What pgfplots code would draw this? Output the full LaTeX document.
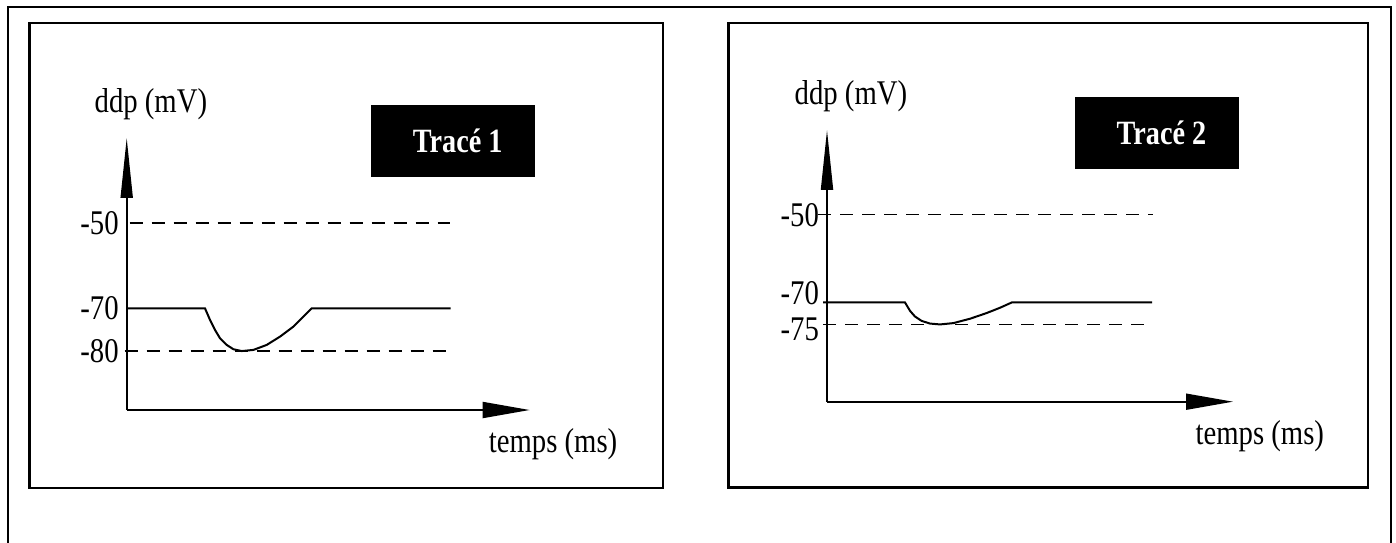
\documentclass[border=0pt]{standalone}
\usepackage{fontspec}
\setmainfont{Liberation Serif}[FakeStretch=0.83]
\usepackage{pgfplots}
\pgfplotsset{compat=1.18}
\usetikzlibrary{arrows.meta}

% common look of the two panels
\pgfplotsset{
  panel/.style={
    anchor=south west,
    axis lines=left,
    enlargelimits=false,
    clip=false,
    xmin=0,
    xtick=\empty,
    major tick length=0pt,
    axis line style={line width=0.9pt},
    x axis line style={-{Triangle[length=23.5pt,width=8pt]}},
    y axis line style={-{Triangle[length=30pt,width=6pt]}},
    yticklabel style={xshift=-0.5pt},
    xlabel={temps (ms)},
    ylabel={ddp (mV)},
    xlabel style={anchor=base},
    ylabel style={rotate=-90,anchor=base},
  },
  seuil/.style={black,line width=0.8pt,dash pattern=on 6.5pt off 4.5pt},
  courbe/.style={black,line width=1pt,mark=none},
}
\tikzset{
  tbox/.style={fill=black,text=white,inner sep=0pt,
    minimum width=82pt,minimum height=36pt,
    font=\bfseries\fontsize{17}{19}\selectfont},
}

\begin{document}
\begin{tikzpicture}[font=\fontsize{17.3}{20}\selectfont]
\useasboundingbox (0,0) rectangle (698pt,271pt);

% frames (1px = 0.5pt)
\draw[line width=1pt] (4pt,-2pt) -- (4pt,267.5pt) -- (695.5pt,267.5pt) -- (695.5pt,-2pt);
\draw[line width=1.2pt] (14.65pt,27pt) rectangle (331.35pt,259.35pt);
\draw[line width=1.2pt] (364.15pt,27.25pt) rectangle (683.85pt,259.35pt);

% ---- Tracé 1
\begin{axis}[panel,
  at={(63.35pt,66pt)},
  x=5pt, y=2.1355pt,
  xmax=40.3, ymin=-93.8, ymax=-30.1,
  ytick={-50,-70,-80}, yticklabels={-50,-70,-80},
  xlabel style={at={(axis description cs:1.058,-0.158)}},
  ylabel style={at={(axis description cs:0.060,1.092)}},
]
\addplot[seuil] coordinates {(0.3,-50) (32.3,-50)};
\addplot[seuil] coordinates {(-0.2,-80) (32.3,-80)};
\addplot[courbe] coordinates {
  (0,-70) (7.83,-70) (8.33,-72.7) (8.83,-75.05) (9.33,-77.0) (10.0,-78.56)
  (10.67,-79.57) (11.5,-80) (12.67,-79.73) (14.0,-78.56) (15.33,-76.62)
  (16.67,-74.28) (17.67,-71.94) (18.5,-70) (32.4,-70)};
\node[tbox] at (axis cs:32.6,-30.8) {\hspace*{5pt}Tracé 1};
\end{axis}

% ---- Tracé 2
\begin{axis}[panel,
  at={(413.5pt,70.15pt)},
  x=5pt, y=2.195pt,
  xmax=40.6, ymin=-92.6, ymax=-30.7,
  ytick={-50,-70,-75},
  yticklabels={-50,\raisebox{-0.85pt}[0pt][0pt]{-70},\raisebox{-7.85pt}[0pt][0pt]{-75}},
  xlabel style={at={(axis description cs:1.066,-0.158)}},
  ylabel style={at={(axis description cs:0.059,1.092)}},
]
\addplot[seuil] coordinates {(-0.9,-50) (32.6,-50)};
\addplot[seuil] coordinates {(-0.4,-75) (32.4,-75)};
\addplot[courbe] coordinates {
  (-0.4,-70) (7.8,-70) (8.3,-71.9) (8.8,-73.2) (9.47,-74.2) (10.3,-74.8)
  (11.3,-75) (12.63,-74.7) (14.3,-73.7) (15.97,-72.4) (17.3,-71.2)
  (18.47,-70) (32.5,-70)};
\node[tbox] at (axis cs:32.95,-31.4) {\hspace*{5pt}Tracé 2};
\end{axis}
\end{tikzpicture}
\end{document}
